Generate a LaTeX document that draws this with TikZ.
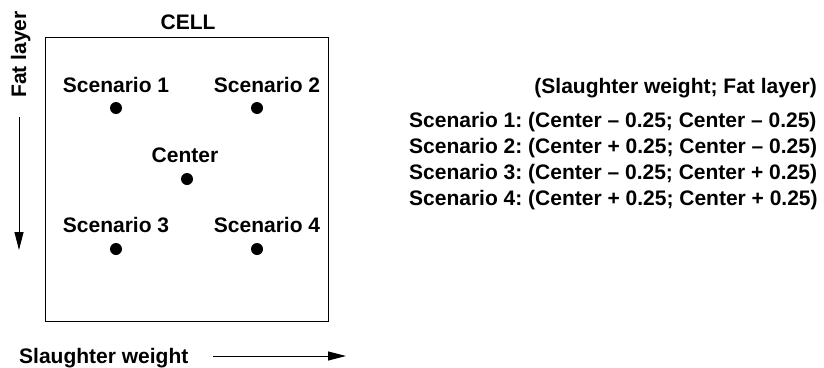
\documentclass[tikz,border=0pt]{standalone}
\usepackage{fontspec}
\setmainfont{Liberation Sans}
\usetikzlibrary{arrows.meta}
\begin{document}
\begin{tikzpicture}[x=1pt,y=-1pt,
  lbl/.style={font=\fontsize{21}{24}\selectfont\bfseries\frenchspacing, inner sep=0pt, anchor=base},
  dot/.style={circle, fill=black, minimum size=12pt, inner sep=0pt},
  axis/.style={line width=1pt, -{Triangle[length=18pt,width=9pt]}}]
\useasboundingbox (0,0) rectangle (824,367);
\node[draw, line width=1pt, minimum width=283pt, minimum height=284pt, inner sep=0pt, anchor=north west] (cell) at (45,37) {};
\node[lbl] (celltitle) at (188,29) {CELL};
\node[dot] (d1) at (116,108) {};
\node[dot] (d2) at (257,108) {};
\node[dot] (dc) at (187,179) {};
\node[dot] (d3) at (116,249) {};
\node[dot] (d4) at (257,249) {};
\node[lbl] (l1) at (116,92) {Scenario 1};
\node[lbl] (l2) at (267,92) {Scenario 2};
\node[lbl] (lc) at (185,162) {Center};
\node[lbl] (l3) at (116,232) {Scenario 3};
\node[lbl] (l4) at (267,232) {Scenario 4};
\node[lbl, rotate=90, anchor=base west] (fat) at (26,98) {Fat layer};
\coordinate (fa) at (19,117);
\coordinate (fb) at (19,250);
\draw[axis] (fa) -- (fb);
\node[lbl, anchor=base west] (sw) at (19,363) {Slaughter weight};
\coordinate (sa) at (213,356);
\coordinate (sb) at (346,356);
\draw[axis] (sa) -- (sb);
\node[lbl, anchor=base east] (hdr) at (817,93) {(Slaughter weight; Fat layer)};
\node[lbl, anchor=base west] (s1) at (409,127) {Scenario 1: (Center -- 0.25; Center -- 0.25)};
\node[lbl, anchor=base west] (s2) at (409,153.3) {Scenario 2: (Center + 0.25; Center -- 0.25)};
\node[lbl, anchor=base west] (s3) at (409,179.6) {Scenario 3: (Center -- 0.25; Center + 0.25)};
\node[lbl, anchor=base west] (s4) at (409,205.9) {Scenario 4: (Center + 0.25; Center + 0.25)};
\end{tikzpicture}
\end{document}
